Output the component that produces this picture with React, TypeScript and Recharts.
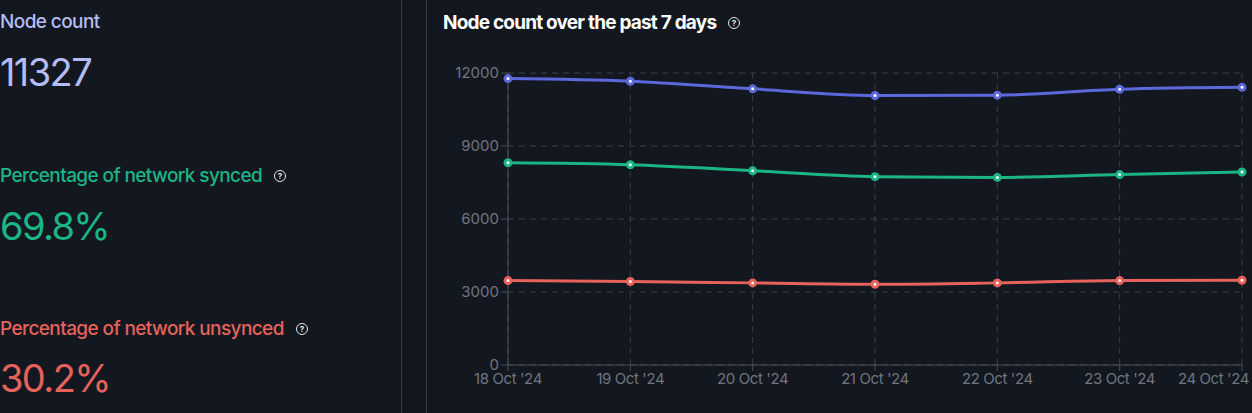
import React from "react"
import { LineChart, Line, XAxis, YAxis, CartesianGrid } from "recharts"

const DATES = ["18 Oct '24", "19 Oct '24", "20 Oct '24", "21 Oct '24", "22 Oct '24", "23 Oct '24", "24 Oct '24"]
const TOTAL = [11770, 11660, 11350, 11075, 11090, 11330, 11410]
const SYNCED = [8310, 8230, 7985, 7740, 7710, 7825, 7930]
const UNSYNCED = [3470, 3430, 3375, 3320, 3375, 3470, 3485]
const Y_TICKS = [0, 3000, 6000, 9000, 12000]

const BG = "#131720"
const BLUE = "#5d68dc"
const GREEN = "#1cb584"
const RED = "#e6625b"
const FONT = "Inter, 'Noto Sans', sans-serif"

const data = DATES.map((date, i) => ({
  date,
  total: TOTAL[i],
  synced: SYNCED[i],
  unsynced: UNSYNCED[i],
}))

function Help({ top, left }: { top: number; left: number }) {
  return (
    <span
      style={{
        position: "absolute",
        top,
        left,
        width: 10,
        height: 10,
        borderRadius: "50%",
        border: "1.3px solid #e5e7eb",
        color: "#e5e7eb",
        fontSize: 8,
        fontWeight: 700,
        lineHeight: "10px",
        textAlign: "center",
        fontFamily: FONT,
      }}
    >
      ?
    </span>
  )
}

function XTick(props: any) {
  const { x, y, payload, index } = props
  const last = index === DATES.length - 1
  return (
    <text
      x={last ? x + 7 : x}
      y={y}
      dy="0.71em"
      textAnchor={last ? "end" : "middle"}
      fill="#70757f"
      fontSize={15}
      fontFamily={FONT}
      letterSpacing={-0.4}
    >
      {payload.value}
    </text>
  )
}

export default function App() {
  const label = (color: string, top: number): React.CSSProperties => ({
    position: "absolute",
    left: 0,
    top,
    color,
    fontSize: 19,
    fontWeight: 500,
    letterSpacing: -0.6,
    lineHeight: "23px",
    whiteSpace: "nowrap",
  })
  const big = (color: string, top: number): React.CSSProperties => ({
    position: "absolute",
    left: 0,
    top,
    color,
    fontSize: 38,
    fontWeight: 400,
    letterSpacing: -1.6,
    lineHeight: "40px",
  })

  return (
    <div
      style={{
        position: "fixed",
        left: 0,
        top: 0,
        width: 1252,
        height: 413,
        background: BG,
        fontFamily: FONT,
        overflow: "hidden",
      }}
    >
      <div style={{ position: "absolute", left: 401, top: 0, width: 1, height: 413, background: "#343843" }} />
      <div style={{ position: "absolute", left: 426, top: 0, width: 1, height: 413, background: "#343843" }} />

      <div style={label("#b3bcf5", 10)}>Node count</div>
      <div style={big("#b3bcf5", 52)}>11327</div>

      <div style={label(GREEN, 164)}>Percentage of network synced</div>
      <Help top={170} left={274} />
      <div style={big(GREEN, 206)}>69.8%</div>

      <div style={label(RED, 317)}>Percentage of network unsynced</div>
      <Help top={323} left={296} />
      <div style={big(RED, 358)}>30.2%</div>

      <div
        style={{
          position: "absolute",
          left: 443,
          top: 11,
          color: "#ffffff",
          fontSize: 19,
          fontWeight: 700,
          letterSpacing: -0.8,
          lineHeight: "23px",
          whiteSpace: "nowrap",
        }}
      >
        Node count over the past 7 days
      </div>
      <Help top={17} left={728} />

      <div style={{ position: "absolute", left: 426, top: 60 }}>
        <LineChart
          width={826}
          height={345}
          data={data}
          margin={{ top: 13, right: 10, bottom: 0, left: 0 }}
        >
          <CartesianGrid stroke="#3a3e48" strokeDasharray="6 5" />
          <XAxis
            dataKey="date"
            axisLine={{ stroke: "#4a4e58" }}
            tickLine={{ stroke: "#4a4e58" }}
            tick={<XTick />}
            interval={0}
            height={40}
          />
          <YAxis
            domain={[0, 12000]}
            ticks={Y_TICKS}
            width={82}
            axisLine={{ stroke: "#4a4e58" }}
            tickLine={{ stroke: "#4a4e58" }}
            tickSize={7}
            tickMargin={2}
            tick={{ fill: "#70757f", fontSize: 15, fontFamily: FONT }}
          />
          <Line
            type="monotone"
            dataKey="total"
            stroke={BLUE}
            strokeWidth={3}
            dot={{ r: 3, fill: "#fff", stroke: BLUE, strokeWidth: 3 }}
            isAnimationActive={false}
          />
          <Line
            type="monotone"
            dataKey="synced"
            stroke={GREEN}
            strokeWidth={3}
            dot={{ r: 3, fill: "#fff", stroke: GREEN, strokeWidth: 3 }}
            isAnimationActive={false}
          />
          <Line
            type="monotone"
            dataKey="unsynced"
            stroke={RED}
            strokeWidth={3}
            dot={{ r: 3, fill: "#fff", stroke: RED, strokeWidth: 3 }}
            isAnimationActive={false}
          />
        </LineChart>
      </div>
    </div>
  )
}
